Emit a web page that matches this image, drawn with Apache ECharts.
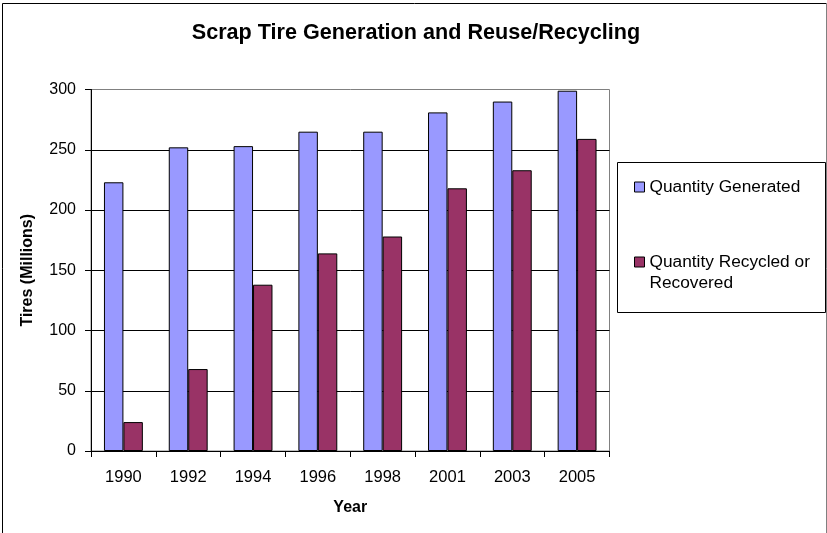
<!DOCTYPE html>
<html>
<head>
<meta charset="utf-8">
<script src="https://cdn.jsdelivr.net/npm/echarts@6/dist/echarts.min.js"></script>
<style>
html,body{margin:0;padding:0;background:#fff;}
#chart{width:827px;height:533px;}
</style>
</head>
<body>
<div id="chart"></div>
<script>
const years = ['1990','1992','1994','1996','1998','2001','2003','2005'];
const generated = [223, 252, 253, 265, 265, 281, 290, 299];
const recycled = [24, 68, 138, 164, 178, 218, 233, 259];
const yTicks = [0, 50, 100, 150, 200, 250, 300];
const seriesNames = ['Quantity Generated', 'Quantity Recycled or Recovered'];

const FONT = '"Liberation Sans", Arial, sans-serif';
const chart = echarts.init(document.getElementById('chart'), null, {renderer: 'canvas'});
chart.setOption({
  animation: false,
  backgroundColor: '#ffffff',
  title: {
    text: 'Scrap Tire Generation and Reuse/Recycling',
    left: 416, top: 22, padding: 0, textAlign: 'center',
    textStyle: {fontFamily: FONT, fontSize: 21.6, fontWeight: 'bold', color: '#000'}
  },
  graphic: [
    {type: 'line', shape: {x1: 2.5, y1: 3.5, x2: 826.5, y2: 3.5}, style: {stroke: '#000', lineWidth: 1}, silent: true},
    {type: 'line', shape: {x1: 2.5, y1: 3.5, x2: 2.5, y2: 540}, style: {stroke: '#000', lineWidth: 1}, silent: true},
    {type: 'line', shape: {x1: 826.5, y1: 3.5, x2: 826.5, y2: 540}, style: {stroke: '#808080', lineWidth: 1}, silent: true},
    {type: 'rect', shape: {x: 617.5, y: 162.5, width: 208, height: 150}, style: {fill: '#fff', stroke: '#000', lineWidth: 1}, z: -1, silent: true}
  ],
  legend: {
    orient: 'vertical',
    left: 634, top: 176.5, padding: 0,
    itemWidth: 10, itemHeight: 10, itemGap: 33,
    icon: 'rect',
    data: seriesNames,
    formatter: function (n) { return n === seriesNames[1] ? ' \nQuantity Recycled or\nRecovered' : n; },
    textStyle: {fontFamily: FONT, fontSize: 17.3, color: '#000', lineHeight: 21},
    itemStyle: {borderColor: '#000', borderWidth: 1}
  },
  grid: {
    left: 91, right: 217.5, top: 89.5, bottom: 82,
    show: true, borderColor: '#808080', borderWidth: 1, backgroundColor: 'transparent'
  },
  xAxis: {
    type: 'category',
    data: years,
    name: 'Year', nameLocation: 'middle', nameGap: 49,
    nameTextStyle: {fontFamily: FONT, fontSize: 16, fontWeight: 'bold', color: '#000'},
    axisLine: {lineStyle: {color: '#000', width: 1}},
    axisTick: {show: true, alignWithLabel: false, length: 6, lineStyle: {color: '#000'}},
    axisLabel: {fontFamily: FONT, fontSize: 16.5, color: '#000', margin: 18},
    splitLine: {show: false}
  },
  yAxis: {
    type: 'value',
    min: yTicks[0], max: yTicks[yTicks.length - 1], interval: 50,
    name: 'Tires (Millions)', nameLocation: 'middle', nameGap: 55,
    nameTextStyle: {fontFamily: FONT, fontSize: 16, fontWeight: 'bold', color: '#000'},
    axisLine: {show: true, lineStyle: {color: '#000', width: 1}},
    axisTick: {show: true, length: 6, lineStyle: {color: '#000'}},
    axisLabel: {fontFamily: FONT, fontSize: 16, color: '#000', margin: 15},
    splitLine: {show: true, showMaxLine: false, lineStyle: {color: '#000', width: 1}}
  },
  series: [
    {
      name: seriesNames[0], type: 'bar', data: generated,
      barGap: '0%', barCategoryGap: '40%',
      itemStyle: {color: '#9999FF', borderColor: '#000', borderWidth: 1}
    },
    {
      name: seriesNames[1], type: 'bar', data: recycled,
      barGap: '0%', barCategoryGap: '40%',
      itemStyle: {color: '#993366', borderColor: '#000', borderWidth: 1}
    }
  ]
});
</script>
</body>
</html>
